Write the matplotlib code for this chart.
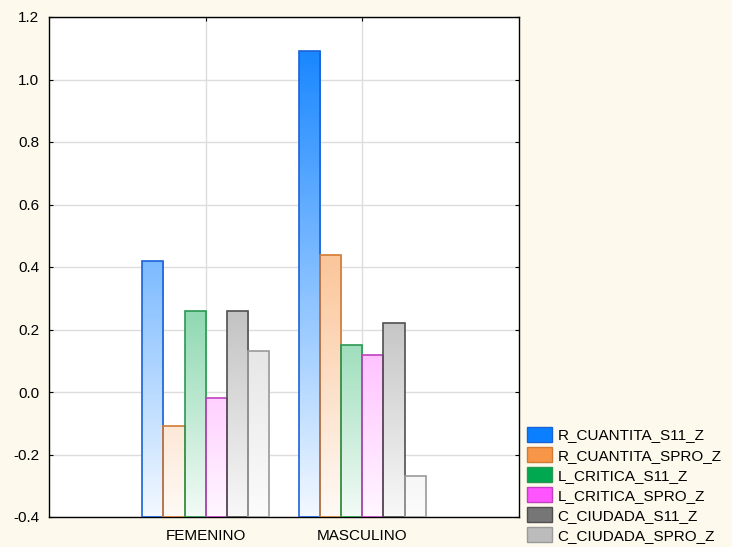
import numpy as np
import matplotlib.pyplot as plt
from matplotlib.colors import LinearSegmentedColormap
from matplotlib.patches import Patch

plt.rcParams['font.family'] = ['Liberation Sans', 'DejaVu Sans']

# data
categories = ['FEMENINO', 'MASCULINO']
series = ['R_CUANTITA_S11_Z', 'R_CUANTITA_SPRO_Z', 'L_CRITICA_S11_Z',
          'L_CRITICA_SPRO_Z', 'C_CIUDADA_S11_Z', 'C_CIUDADA_SPRO_Z']
femenino = [0.42, -0.11, 0.26, -0.02, 0.26, 0.13]
masculino = [1.09, 0.44, 0.15, 0.12, 0.22, -0.27]
values = np.array([femenino, masculino])

colors = ['#0a7fff', '#f79646', '#00a84f', '#ff55ff', '#767676', '#bcbcbc']
edges = ['#1a62d8', '#d07a35', '#2a9850', '#c040c0', '#505050', '#9a9a9a']

ymin, ymax = -0.4, 1.2

fig = plt.figure(figsize=(7.32, 5.47), dpi=100, facecolor='#fdf9ec')
ax = fig.add_axes([49/732, 30/547, 470/732, 500/547])
ax.set_facecolor('white')

x = np.arange(1, len(categories) + 1)
w = 0.135
grad = np.linspace(0.05, 1, 256).reshape(-1, 1)

for i, name in enumerate(series):
    offs = (i - 2.5) * w
    bars = ax.bar(x + offs, values[:, i] - ymin, bottom=ymin, width=w,
                  facecolor='none', edgecolor=edges[i], linewidth=1.2, zorder=3)
    cmap = LinearSegmentedColormap.from_list('g%d' % i, ['white', colors[i]])
    for b in bars:
        im = ax.imshow(grad, cmap=cmap, origin='lower', aspect='auto',
                       extent=[0, 3, ymin, ymax], zorder=2, vmin=0, vmax=1)
        im.set_clip_path(b)

ax.set_xlim(0, 3)
ax.set_ylim(ymin, ymax)
ax.set_xticks(x)
ax.set_xticklabels(categories)
ax.set_yticks(np.arange(-0.4, 1.21, 0.2))
ax.set_yticklabels(['%.1f' % v for v in np.arange(-0.4, 1.21, 0.2)])
ax.grid(True, color='#dddddd', linewidth=1, zorder=0)
ax.set_axisbelow(True)
ax.tick_params(direction='in', length=3, labelsize=11, top=True, right=True)
ax.tick_params(axis='y', pad=7)
ax.tick_params(axis='x', pad=9)
for s in ax.spines.values():
    s.set_color('black')
    s.set_linewidth(1)

handles = [Patch(facecolor=colors[i], edgecolor=edges[i], label=series[i])
           for i in range(len(series))]
fig.legend(handles=handles, loc='lower left', bbox_to_anchor=(527/732, 4/547),
           frameon=False, fontsize=11, handlelength=1.65, handleheight=1.1,
           handletextpad=0.35, labelspacing=0.3, borderaxespad=0,
           borderpad=0)

fig.savefig('out.png', dpi=100, facecolor=fig.get_facecolor())
